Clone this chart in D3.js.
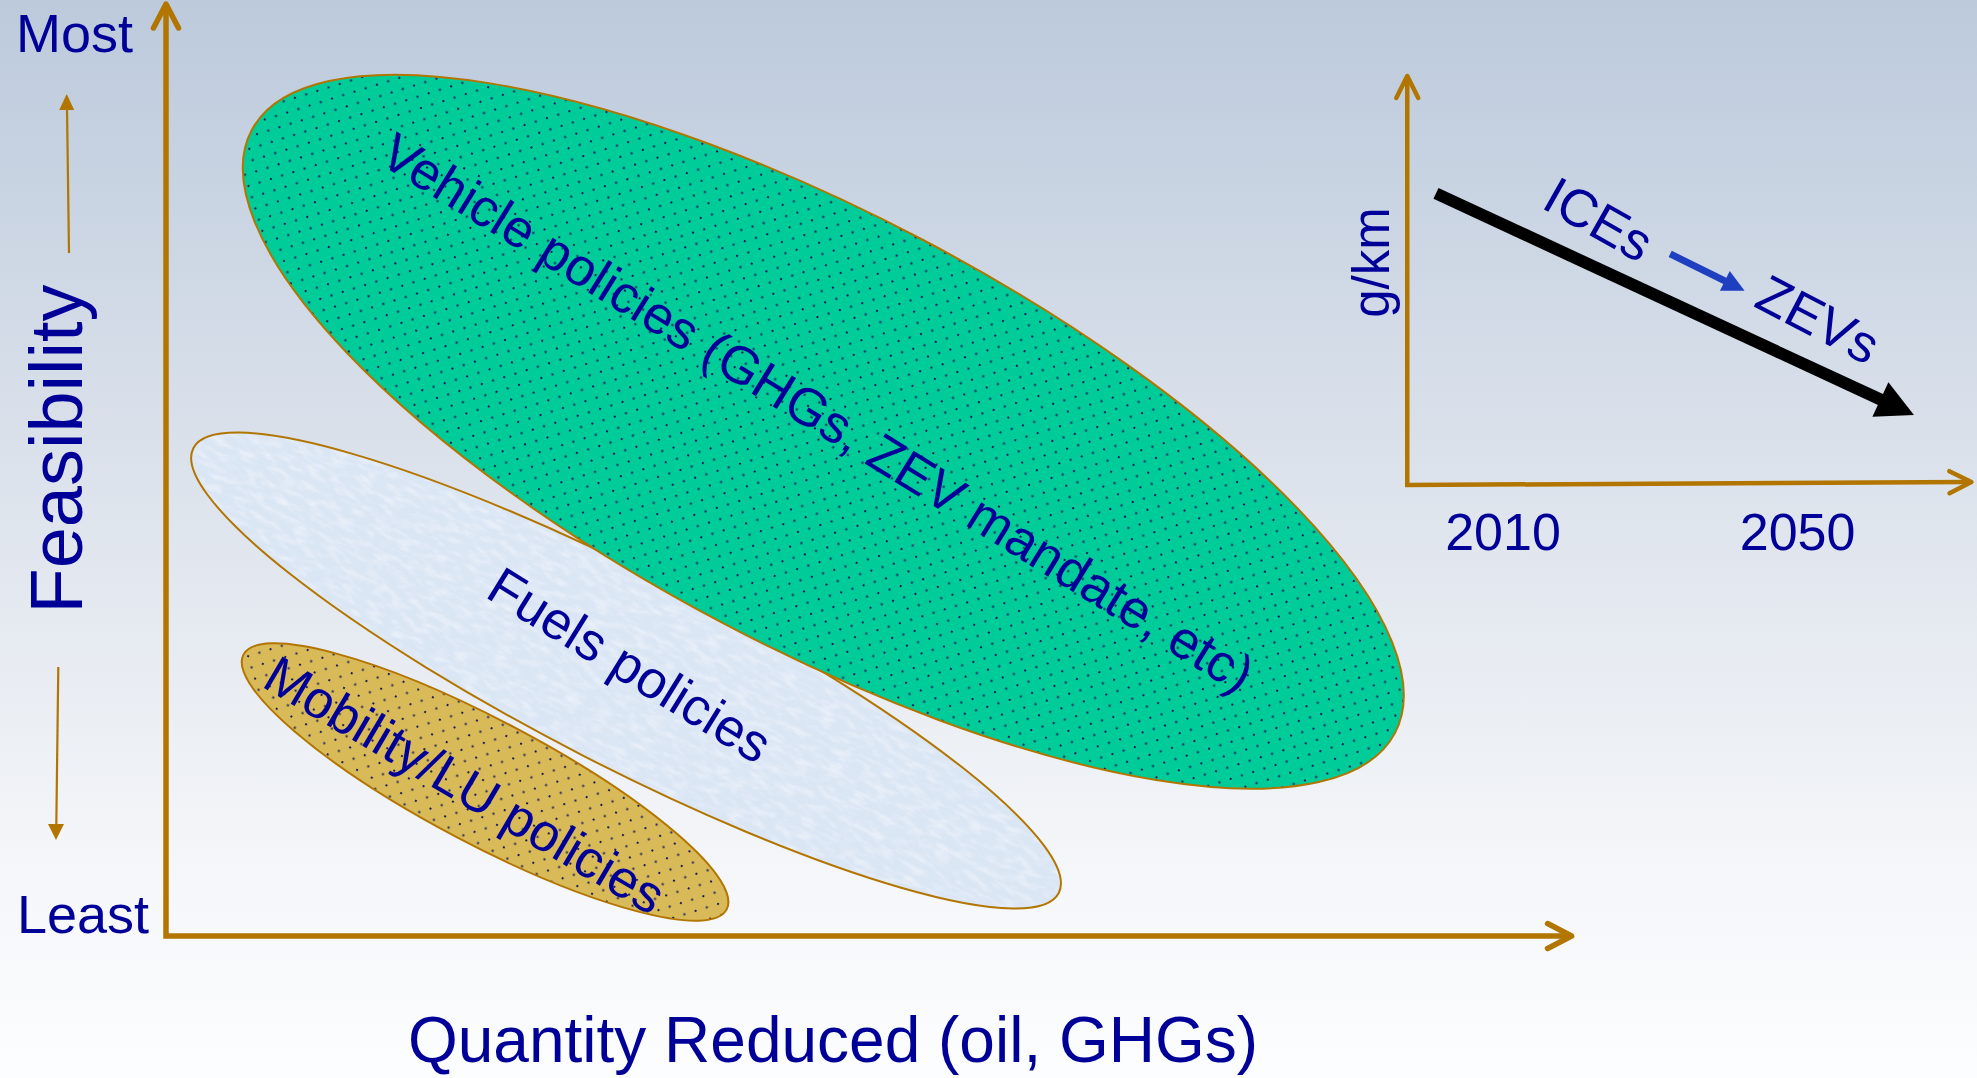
<!DOCTYPE html>
<html>
<head>
<meta charset="utf-8">
<script src="https://cdn.jsdelivr.net/npm/d3@7"></script>
<style>
  html, body { margin: 0; padding: 0; overflow: hidden; background: #fff; }
  svg { display: block; }
</style>
</head>
<body>
<svg id="chart"></svg>
<script>
// Policy groups placed on quantity reduced (x) versus feasibility (y)
const policies = ["Vehicle policies (GHGs, ZEV mandate, etc)", "Fuels policies", "Mobility/LU policies"];
const quantityCenter = [46.95, 32.86, 22.79];
const feasibilityCenter = [36.02, 18.96, 11.0];
const majorSpread = [46.16, 34.75, 19.51];
const minorSpread = [15.44, 6.81, 4.43];
const tiltDeg = [27.8, 27.2, 27.8];
const labelQuantity = [46.56, 33.14, 21.36];
const labelFeasibility = [37.38, 19.36, 10.79];
const labelTiltDeg = [31.7, 31.7, 30.5];

const feasibilityEnds = ["Most", "Least"];
const axisTitles = ["Feasibility", "Quantity Reduced (oil, GHGs)"];

// Inset: emissions per km over time
const insetYears = [2010, 2050];
const insetUnit = "g/km";
const trendYears = [2000.9, 2065.8];
const trendGkm = [71.3, 17.1];
const shiftYears = [2032.7, 2042.8];
const shiftGkm = [56.5, 47.5];
const technologies = ["ICEs", "ZEVs"];
const techYears = [2023.0, 2052.8];
const techGkm = [65.0, 40.5];
const techTiltDeg = [29.5, 27.5];

const W = 1977, H = 1078;
const FONT = "'Liberation Sans', Arial, Helvetica, sans-serif";
const NAVY = "#000099";
const AXIS = "#b27500";

const svg = d3.select("#chart").attr("width", W).attr("height", H);
const defs = svg.append("defs");

// background wash
const bg = defs.append("linearGradient").attr("id", "bg")
  .attr("x1", 0).attr("y1", 0).attr("x2", 0).attr("y2", 1);
bg.append("stop").attr("offset", "0").attr("stop-color", "#bccadc");
bg.append("stop").attr("offset", "0.45").attr("stop-color", "#dde3ec");
bg.append("stop").attr("offset", "0.8").attr("stop-color", "#f4f6f9");
bg.append("stop").attr("offset", "1").attr("stop-color", "#fcfdfe");
svg.append("rect").attr("width", W).attr("height", H).attr("fill", "url(#bg)");

// dotted fill pattern
const dots = defs.append("pattern").attr("id", "dots")
  .attr("patternUnits", "userSpaceOnUse").attr("width", 16.6).attr("height", 16.6);
[[0, 0], [8.3, 8.3]].forEach(([dx, dy]) => {
  dots.append("rect").attr("x", dx).attr("y", dy).attr("width", 2).attr("height", 2)
    .attr("fill", "#1b1e58");
});

// cloth-like texture for the fuels group
const cloth = defs.append("filter").attr("id", "cloth")
  .attr("x", "-5%").attr("y", "-5%").attr("width", "110%").attr("height", "110%");
cloth.append("feTurbulence").attr("type", "fractalNoise")
  .attr("baseFrequency", "0.06 0.16").attr("numOctaves", 4).attr("seed", 7).attr("result", "noise");
cloth.append("feColorMatrix").attr("in", "noise").attr("type", "matrix")
  .attr("values", "0 0 0 0 1  0 0 0 0 1  0 0 0 0 1  1.0 0 0 0 -0.45").attr("result", "light");
cloth.append("feComposite").attr("in", "light").attr("in2", "SourceGraphic")
  .attr("operator", "atop");

// main scales (equal units on both axes)
const x = d3.scaleLinear().domain([0, 100]).range([166, 1566]);
const y = d3.scaleLinear().domain([0, 66.57]).range([936, 4]);
const unit = x(1) - x(0);

function chevron(g, tipX, tipY, angleDeg, len, half, width, color) {
  const a = angleDeg * Math.PI / 180;
  const ux = Math.cos(a), uy = Math.sin(a);
  const px = -uy, py = ux;
  const bx = tipX - ux * len, by = tipY - uy * len;
  g.append("path")
    .attr("d", d3.line()([[bx + px * half, by + py * half], [tipX, tipY], [bx - px * half, by - py * half]]))
    .attr("fill", "none").attr("stroke", color).attr("stroke-width", width)
    .attr("stroke-linecap", "round").attr("stroke-linejoin", "round");
}
function headTri(g, tipX, tipY, angleDeg, len, half, color) {
  const a = angleDeg * Math.PI / 180;
  const ux = Math.cos(a), uy = Math.sin(a);
  const px = -uy, py = ux;
  const bx = tipX - ux * len, by = tipY - uy * len;
  g.append("path")
    .attr("d", d3.line()([[bx + px * half, by + py * half], [tipX, tipY], [bx - px * half, by - py * half]]) + "Z")
    .attr("fill", color);
}

// policy ellipses: fuels, mobility, then vehicle on top
const order = [1, 2, 0];
const fills = ["#00cc99", "#dbe6f5", "#d9ba58"];
const ellipses = svg.append("g");
order.forEach(i => {
  const cx = x(quantityCenter[i]), cy = y(feasibilityCenter[i]);
  const rx = majorSpread[i] * unit, ry = minorSpread[i] * unit;
  const g = ellipses.append("g").attr("transform", `rotate(${tiltDeg[i]},${cx},${cy})`);
  g.append("ellipse").attr("cx", cx).attr("cy", cy).attr("rx", rx).attr("ry", ry)
    .attr("fill", fills[i]).attr("filter", i === 1 ? "url(#cloth)" : null);
  if (i !== 1) {
    g.append("ellipse").attr("cx", cx).attr("cy", cy).attr("rx", rx).attr("ry", ry)
      .attr("fill", "url(#dots)");
  }
  g.append("ellipse").attr("cx", cx).attr("cy", cy).attr("rx", rx).attr("ry", ry)
    .attr("fill", "none").attr("stroke", AXIS).attr("stroke-width", 2);
  const lx = x(labelQuantity[i]), ly = y(labelFeasibility[i]);
  ellipses.append("text")
    .attr("transform", `translate(${lx},${ly}) rotate(${labelTiltDeg[i]})`)
    .attr("text-anchor", "middle").attr("dominant-baseline", "central")
    .attr("font-family", FONT).attr("font-size", 53).attr("fill", NAVY)
    .text(policies[i]);
});

// main axes
const axes = svg.append("g");
const x0 = x(0), y0 = y(0), xEnd = x(100.4), yEnd = y(66.57);
axes.append("path").attr("d", d3.line()([[x0, yEnd + 2], [x0, y0], [xEnd - 2, y0]]))
  .attr("fill", "none").attr("stroke", AXIS).attr("stroke-width", 5.5)
  .attr("stroke-linejoin", "miter");
chevron(axes, x0, yEnd, -90, 24, 12.5, 5.5, AXIS);
chevron(axes, xEnd, y0, 0, 24, 12.5, 5.5, AXIS);

// feasibility direction hints
const hints = svg.append("g");
hints.append("line").attr("x1", 69).attr("y1", 253).attr("x2", 67).attr("y2", 108)
  .attr("stroke", AXIS).attr("stroke-width", 2.2);
headTri(hints, 66.7, 94, -90, 16, 7.5, AXIS);
hints.append("line").attr("x1", 58.3).attr("y1", 667).attr("x2", 56.3).attr("y2", 826)
  .attr("stroke", AXIS).attr("stroke-width", 2.2);
headTri(hints, 56, 840, 90, 16, 8, AXIS);

const labels = svg.append("g").attr("font-family", FONT).attr("fill", NAVY);
labels.append("text").attr("x", 16).attr("y", 52).attr("font-size", 54).text(feasibilityEnds[0]);
labels.append("text").attr("x", 17).attr("y", 933).attr("font-size", 54).text(feasibilityEnds[1]);
labels.append("text").attr("transform", "translate(82,449) rotate(-90)")
  .attr("text-anchor", "middle").attr("font-size", 74).text(axisTitles[0]);
labels.append("text").attr("x", 833).attr("y", 1062)
  .attr("text-anchor", "middle").attr("font-size", 64).text(axisTitles[1]);

// inset chart
const yr = d3.scaleLinear().domain(insetYears).range([1503, 1797.6]);
const gk = d3.scaleLinear().domain([0, 100]).range([485, 76]);
const inset = svg.append("g");
const ix0 = yr(1997), iy0 = gk(0), ixEnd = yr(2073.6), iyEnd = gk(100);
inset.append("path").attr("d", d3.line()([[ix0, iyEnd + 2], [ix0, iy0], [ixEnd - 2, iy0 - 3]]))
  .attr("fill", "none").attr("stroke", AXIS).attr("stroke-width", 4.5);
chevron(inset, ix0, iyEnd, -90, 22, 11, 4.5, AXIS);
chevron(inset, ixEnd, iy0 - 3, -0.5, 22, 11, 4.5, AXIS);

function arrowLine(g, p0, p1, width, headLen, headHalf, color) {
  const ang = Math.atan2(p1[1] - p0[1], p1[0] - p0[0]);
  const bx = p1[0] - Math.cos(ang) * headLen * 0.9, by = p1[1] - Math.sin(ang) * headLen * 0.9;
  g.append("line").attr("x1", p0[0]).attr("y1", p0[1]).attr("x2", bx).attr("y2", by)
    .attr("stroke", color).attr("stroke-width", width);
  headTri(g, p1[0], p1[1], ang * 180 / Math.PI, headLen, headHalf, color);
}
arrowLine(inset, [yr(trendYears[0]), gk(trendGkm[0])], [yr(trendYears[1]), gk(trendGkm[1])], 12, 37, 19, "#000");
arrowLine(inset, [yr(shiftYears[0]), gk(shiftGkm[0])], [yr(shiftYears[1]), gk(shiftGkm[1])], 7, 22, 11, "#1e3fbf");

const insetText = svg.append("g").attr("font-family", FONT).attr("fill", NAVY);
technologies.forEach((t, i) => {
  insetText.append("text")
    .attr("transform", `translate(${yr(techYears[i])},${gk(techGkm[i])}) rotate(${techTiltDeg[i]})`)
    .attr("text-anchor", "middle").attr("dominant-baseline", "central")
    .attr("font-size", 53).text(t);
});
insetText.append("text").attr("transform", "translate(1389,262.5) rotate(-90)")
  .attr("text-anchor", "middle").attr("font-size", 51).text(insetUnit);
insetYears.forEach(yv => {
  insetText.append("text").attr("x", yr(yv)).attr("y", 550)
    .attr("text-anchor", "middle").attr("font-size", 52).text(yv);
});
</script>
</body>
</html>
